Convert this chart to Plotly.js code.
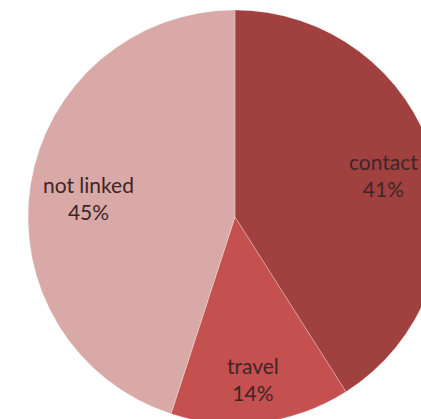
<!DOCTYPE html>
<html>
<head>
<meta charset="utf-8">
<script src="https://cdn.plot.ly/plotly-3.0.1.min.js"></script>
<style>
html,body{margin:0;padding:0;overflow:hidden;background:#fff;width:421px;height:419px;}
#chart{width:450px;height:430px;}
</style>
</head>
<body>
<div id="chart"></div>
<script>
const categories = ["contact", "travel", "not linked"];
const values = [41, 14, 45];
const percentLabels = ["41%", "14%", "45%"];
const colors = ["#a0403f", "#c4504f", "#d9a9a8"];

const W = 450, H = 430;
// label block centres in pixels (layout only)
const labelPos = [[383, 175], [253, 379], [88, 198]];

const trace = {
  type: "pie",
  labels: categories,
  values: values,
  textinfo: "none",
  marker: {colors: colors, line: {color: "rgba(255,255,255,0.25)", width: 1}},
  sort: false,
  direction: "clockwise",
  rotation: 0,
  hoverinfo: "none",
  domain: {x: [28 / W, 442 / W], y: [(H - 424) / H, (H - 10) / H]}
};
const annotations = categories.map((c, i) => ({
  xref: "paper", yref: "paper",
  x: labelPos[i][0] / W, y: (H - labelPos[i][1]) / H,
  xanchor: "center", yanchor: "middle",
  text: c + "<br>" + percentLabels[i],
  showarrow: false,
  font: {family: "Lato, 'Open Sans', sans-serif", size: 21, color: "#3e2626"}
}));
Plotly.newPlot("chart", [trace], {
  width: W, height: H,
  margin: {l: 0, r: 0, t: 0, b: 0},
  showlegend: false,
  paper_bgcolor: "#fff",
  annotations: annotations
}, {displayModeBar: false, staticPlot: true});
</script>
</body>
</html>
